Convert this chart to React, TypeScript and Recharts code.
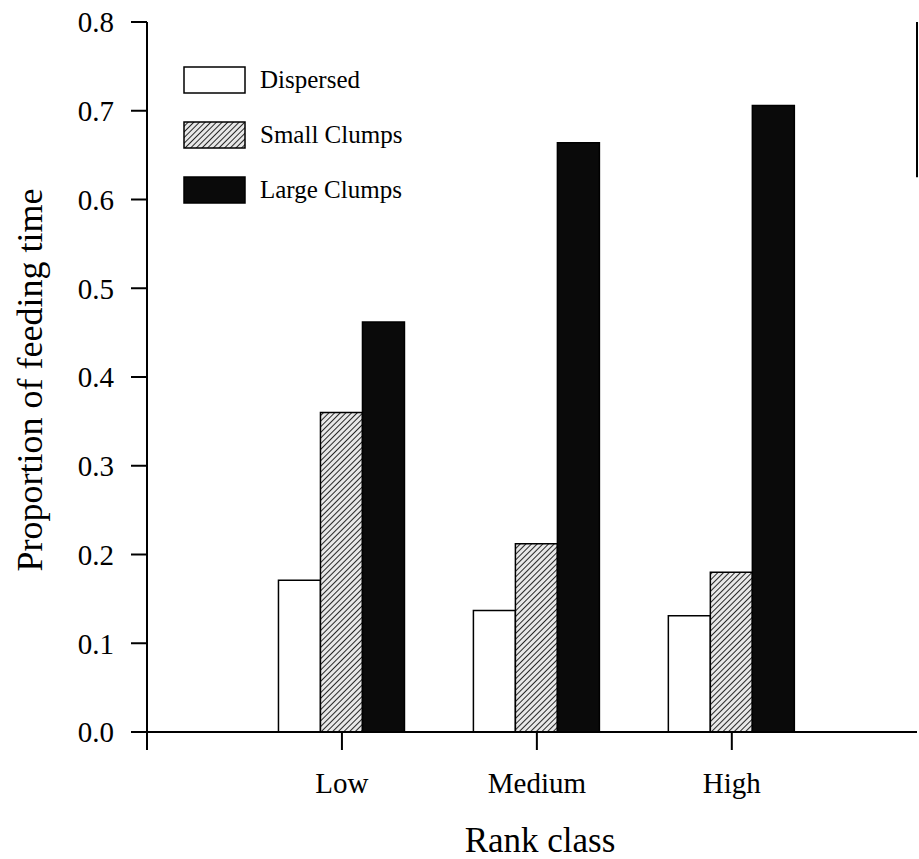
import React from 'react';
import {
  BarChart,
  Bar,
  XAxis,
  YAxis,
  Legend,
  Label,
  ReferenceLine,
} from 'recharts';

const RANKS = ['Low', 'Medium', 'High'];
const RANK_POS = [1, 2, 3];
const DISPERSED = [0.171, 0.137, 0.131];
const SMALL_CLUMPS = [0.36, 0.212, 0.18];
const LARGE_CLUMPS = [0.462, 0.664, 0.706];
const Y_TICKS = [0, 0.1, 0.2, 0.3, 0.4, 0.5, 0.6, 0.7, 0.8];
const X_TICKS = [0, 1, 2, 3];
const X_MAX = 3.95;

const FONT = '"Liberation Serif", "Times New Roman", serif';

const SERIES = [
  { key: 'dispersed', label: 'Dispersed', fill: '#ffffff' },
  { key: 'small', label: 'Small Clumps', fill: 'url(#hatch)' },
  { key: 'large', label: 'Large Clumps', fill: '#0a0a0a' },
] as const;

const data = RANKS.map((r, i) => ({
  rank: r,
  x: RANK_POS[i],
  dispersed: DISPERSED[i],
  small: SMALL_CLUMPS[i],
  large: LARGE_CLUMPS[i],
}));

function HatchDef({ id }: { id: string }) {
  return (
    <pattern
      id={id}
      patternUnits="userSpaceOnUse"
      width={4}
      height={4}
      patternTransform="rotate(45)"
    >
      <rect width={4} height={4} fill="#e8e8e8" />
      <line x1={0} y1={0} x2={0} y2={4} stroke="#111" strokeWidth={1.8} />
    </pattern>
  );
}

function LegendBox() {
  return (
    <div style={{ fontFamily: FONT, fontSize: 25, color: '#000' }}>
      {SERIES.map((s, i) => (
        <div
          key={s.key}
          style={{ display: 'flex', alignItems: 'center', height: 28, marginBottom: i < 2 ? 27 : 0 }}
        >
          <svg width={63} height={28} style={{ display: 'block' }}>
            <defs>
              <HatchDef id={`hatch-leg-${i}`} />
            </defs>
            <rect
              x={1}
              y={1}
              width={61}
              height={26}
              fill={s.key === 'small' ? `url(#hatch-leg-${i})` : s.fill}
              stroke="#000"
              strokeWidth={1.5}
            />
          </svg>
          <span style={{ marginLeft: 14, lineHeight: '28px' }}>{s.label}</span>
        </div>
      ))}
    </div>
  );
}

export default function App() {
  const tickStyle = { fill: '#000', fontFamily: FONT, fontSize: 29 };
  const axisLine = { stroke: '#000', strokeWidth: 2 };

  return (
    <div style={{ width: 919, height: 859, background: '#fff' }}>
      <style>{'body{margin:0;background:#fff}'}</style>
      <BarChart
        width={919}
        height={859}
        data={data}
        margin={{ top: 22, right: 2, left: 0, bottom: 0 }}
        barGap={0}
        barSize={42}
      >
        <defs>
          <HatchDef id="hatch" />
        </defs>
        <XAxis
          dataKey="x"
          type="number"
          domain={[0, X_MAX]}
          ticks={X_TICKS}
          allowDataOverflow
          height={127}
          tickSize={18}
          tickMargin={22}
          tick={tickStyle}
          tickLine={{ stroke: '#000', strokeWidth: 2 }}
          axisLine={axisLine}
          tickFormatter={(v: number) => RANKS[v - 1] ?? ''}
        >
          <Label
            value="Rank class"
            position="insideBottom"
            offset={7}
            dx={8}
            style={{ fill: '#000', fontFamily: FONT, fontSize: 35 }}
          />
        </XAxis>
        <XAxis
          xAxisId="top"
          orientation="top"
          type="number"
          domain={[0, X_MAX]}
          height={0}
          tick={false}
          tickLine={false}
          axisLine={axisLine}
        />
        <YAxis
          type="number"
          domain={[0, 0.8]}
          ticks={Y_TICKS}
          width={147}
          tickSize={16}
          tickMargin={17}
          tick={tickStyle}
          tickLine={{ stroke: '#000', strokeWidth: 2 }}
          axisLine={axisLine}
          tickFormatter={(v: number) => v.toFixed(1)}
        >
          <Label
            content={(props: any) => {
              const vb = props.viewBox || { x: 0, y: 22, width: 147, height: 710 };
              const cx = 42;
              const cy = vb.y + vb.height / 2 + 3;
              return (
                <text
                  x={cx}
                  y={cy}
                  transform={`rotate(-90, ${cx}, ${cy})`}
                  textAnchor="middle"
                  fill="#000"
                  style={{ fontFamily: FONT, fontSize: 36 }}
                >
                  Proportion of feeding time
                </text>
              );
            }}
          />
        </YAxis>
        <ReferenceLine
          segment={[
            { x: X_MAX, y: 0.8 },
            { x: X_MAX, y: 0.625 },
          ]}
          stroke="#000"
          strokeWidth={2}
          ifOverflow="visible"
        />
        <Legend
          layout="vertical"
          align="center"
          verticalAlign="middle"
          wrapperStyle={{ left: 183, top: 66, width: 'auto' }}
          content={() => <LegendBox />}
        />
        {SERIES.map((s) => (
          <Bar
            key={s.key}
            dataKey={s.key}
            name={s.label}
            fill={s.fill}
            stroke="#000"
            strokeWidth={1.5}
            isAnimationActive={false}
          />
        ))}
      </BarChart>
    </div>
  );
}
